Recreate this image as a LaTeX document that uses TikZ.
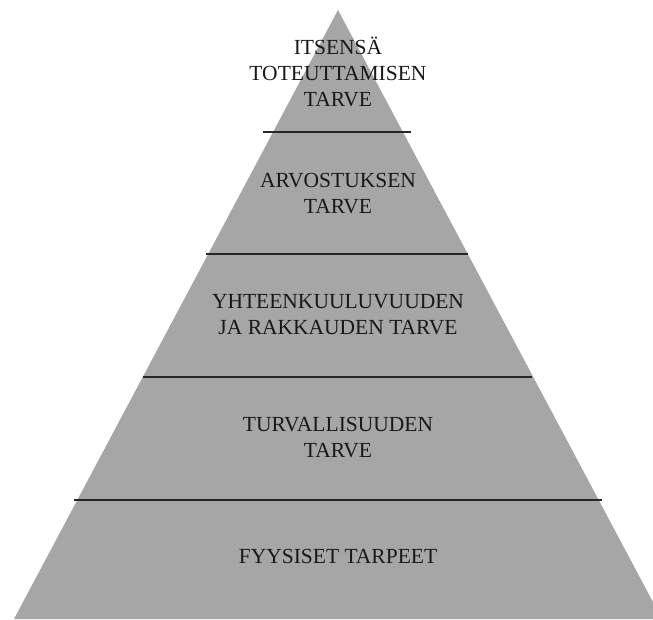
\documentclass[tikz,border=0pt]{standalone}
\usepackage{fontspec}
\setmainfont{Liberation Serif}
\begin{document}
\begin{tikzpicture}[x=1pt,y=-1pt,
  level/.style={font=\fontsize{21.5}{26}\selectfont, align=center, text=black!90, inner sep=0pt},
  divider/.style={line width=2.4pt, draw=black!85}]
\useasboundingbox (0,0) rectangle (653,619);
\begin{scope}
\clip (0,0) rectangle (653,619);
\fill[black!35] (338,10) -- (14,619) -- (662,619) -- cycle;
\end{scope}
\coordinate (l1a) at (263,132); \coordinate (l1b) at (411,132);
\coordinate (l2a) at (206,254); \coordinate (l2b) at (468,254);
\coordinate (l3a) at (143,377); \coordinate (l3b) at (532,377);
\coordinate (l4a) at (74,500);  \coordinate (l4b) at (602,500);
\draw[divider] (l1a) -- (l1b);
\draw[divider] (l2a) -- (l2b);
\draw[divider] (l3a) -- (l3b);
\draw[divider] (l4a) -- (l4b);
\node[level] (n1) at (338,72) {ITSENSÄ\\TOTEUTTAMISEN\\TARVE};
\node[level] (n2) at (338,194) {ARVOSTUKSEN\\TARVE};
\node[level] (n3) at (338,315) {YHTEENKUULUVUUDEN\\JA RAKKAUDEN TARVE};
\node[level] (n4) at (338,438) {TURVALLISUUDEN\\TARVE};
\node[level] (n5) at (338,556) {FYYSISET TARPEET};
\end{tikzpicture}
\end{document}
